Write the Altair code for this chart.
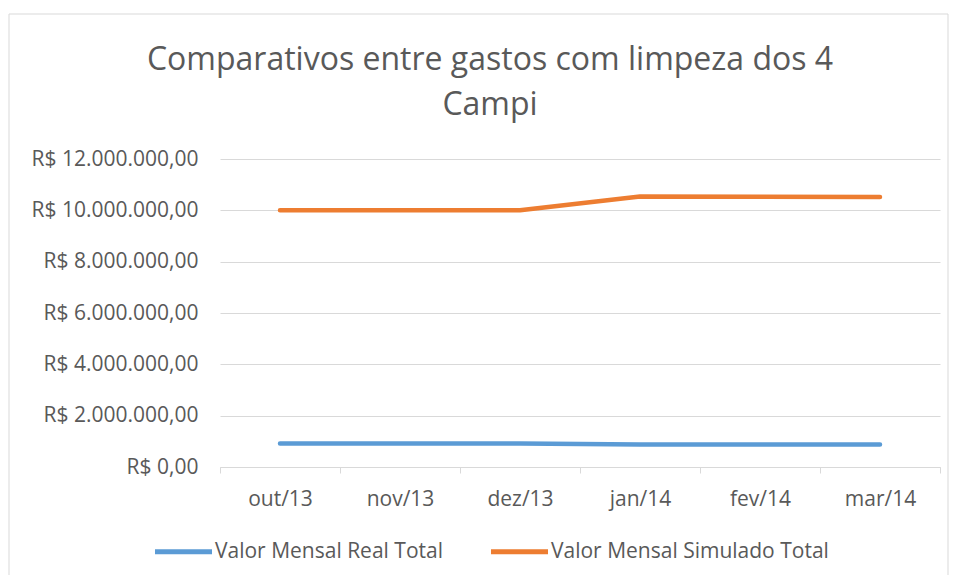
import altair as alt
import pandas as pd

meses = ["out/13", "nov/13", "dez/13", "jan/14", "fev/14", "mar/14"]
real_total = [920000, 920000, 920000, 880000, 880000, 880000]
simulado_total = [10000000, 10000000, 10000000, 10540000, 10530000, 10520000]
series = ["Valor Mensal Real Total", "Valor Mensal Simulado Total"]
cores = ["#5B9BD5", "#ED7D31"]
y_ticks = [0, 2000000, 4000000, 6000000, 8000000, 10000000, 12000000]
titulo = ["Comparativos entre gastos com limpeza dos 4", "Campi"]

rows = []
for m, r, s in zip(meses, real_total, simulado_total):
    rows.append({"mes": m, "serie": series[0], "valor": r})
    rows.append({"mes": m, "serie": series[1], "valor": s})
df = pd.DataFrame(rows)

FONT = "Open Sans"
GREY = "#595959"
FS = 21

lines = alt.Chart(df).mark_line(strokeWidth=4.5, strokeCap="round", strokeJoin="round").encode(
    x=alt.X("mes:N", sort=meses, bandPosition=0.5,
            scale=alt.Scale(type="band", paddingInner=0, paddingOuter=0),
            axis=alt.Axis(title=None, tickBand="extent", labelAngle=0, labelPadding=15,
                          tickSize=6, tickColor="#D9D9D9", domainColor="#D9D9D9",
                          labelFont=FONT, labelFontSize=FS, labelColor=GREY, grid=False)),
    y=alt.Y("valor:Q", scale=alt.Scale(domain=[0, 12000000], nice=False),
            axis=alt.Axis(title=None, values=y_ticks, ticks=False, domain=False,
                          gridColor="#D9D9D9", labelPadding=22,
                          labelFont=FONT, labelFontSize=FS, labelColor=GREY,
                          labelExpr="datum.value == 0 ? 'R$ 0,00' : 'R$ ' + format(datum.value/1000000, 'd') + '.000.000,00'")),
    color=alt.Color("serie:N", scale=alt.Scale(domain=series, range=cores),
                    legend=alt.Legend(title=None, orient="none", direction="horizontal",
                                      legendX=-68, legendY=361, symbolType="stroke",
                                      symbolSize=3250, symbolStrokeWidth=5,
                                      labelFont=FONT, labelFontSize=FS, labelColor=GREY,
                                      labelLimit=0, columnPadding=37, labelOffset=0)),
)

border = alt.Chart(pd.DataFrame({"a": [0]})).mark_rect(fill=None, stroke="#D9D9D9", strokeWidth=1).encode(
    x=alt.value(-211), x2=alt.value(728), y=alt.value(-145), y2=alt.value(440)
)

title = alt.Chart(pd.DataFrame({"a": [0]})).mark_text(
    text=titulo, font=FONT, fontSize=32, color=GREY, align="center", baseline="middle",
    lineHeight=45
).encode(x=alt.value(270), y=alt.value(-99))

chart = alt.layer(border, lines, title).properties(
    width=720, height=308,
    padding={"left": 212, "top": 151, "right": 9, "bottom": 108},
    autosize=alt.AutoSizeParams(type="none"),
).configure_view(stroke=None)

chart.save("out.html", embed_options={"renderer": "svg", "actions": False})
